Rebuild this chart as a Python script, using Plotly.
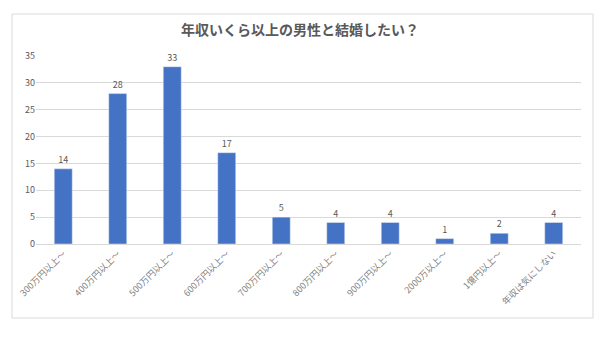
import plotly.graph_objects as go

categories = ["300万円以上～", "400万円以上～", "500万円以上～", "600万円以上～", "700万円以上～",
              "800万円以上～", "900万円以上～", "2000万以上～", "1億円以上～", "年収は気にしない"]
values = [14, 28, 33, 17, 5, 4, 4, 1, 2, 4]
title_text = "年収いくら以上の男性と結婚したい？"

FONT = "Noto Sans CJK JP, sans-serif"
GRAY = "#595959"

fig = go.Figure(go.Bar(
    x=categories, y=values,
    marker_color="#4472C4",
    text=values, textposition="outside",
    textfont=dict(size=9, color=GRAY, family=FONT),
    cliponaxis=False,
))

L, R, T, B = 36, 19, 56, 93
pw, ph = 600 - L - R, 337 - T - B

fig.update_layout(
    width=600, height=337,
    margin=dict(l=L, r=R, t=T, b=B),
    paper_bgcolor="white", plot_bgcolor="white",
    bargap=0.67,
    showlegend=False,
    font=dict(family=FONT, color=GRAY, size=9),
    title=dict(text="<b>" + title_text + "</b>", x=0.5, xanchor="center",
               y=1 - 30 / 337, yanchor="middle",
               font=dict(size=14, color=GRAY, family=FONT)),
    xaxis=dict(tickangle=-45, tickfont=dict(size=9, color="#7f7f7f"),
               showline=True, linecolor="#d9d9d9", ticks="", showgrid=False),
    yaxis=dict(range=[0, 35], dtick=5, showgrid=True, gridcolor="#d9d9d9",
               zeroline=False, tickfont=dict(size=9, color=GRAY), ticks=""),
    shapes=[dict(type="rect", xref="paper", yref="paper",
                 x0=(12 - L) / pw, x1=(593 - L) / pw,
                 y0=(337 - B - 318) / ph, y1=(337 - B - 14) / ph,
                 line=dict(color="#d9d9d9", width=1), layer="below")],
)

fig.write_html("out.html")
